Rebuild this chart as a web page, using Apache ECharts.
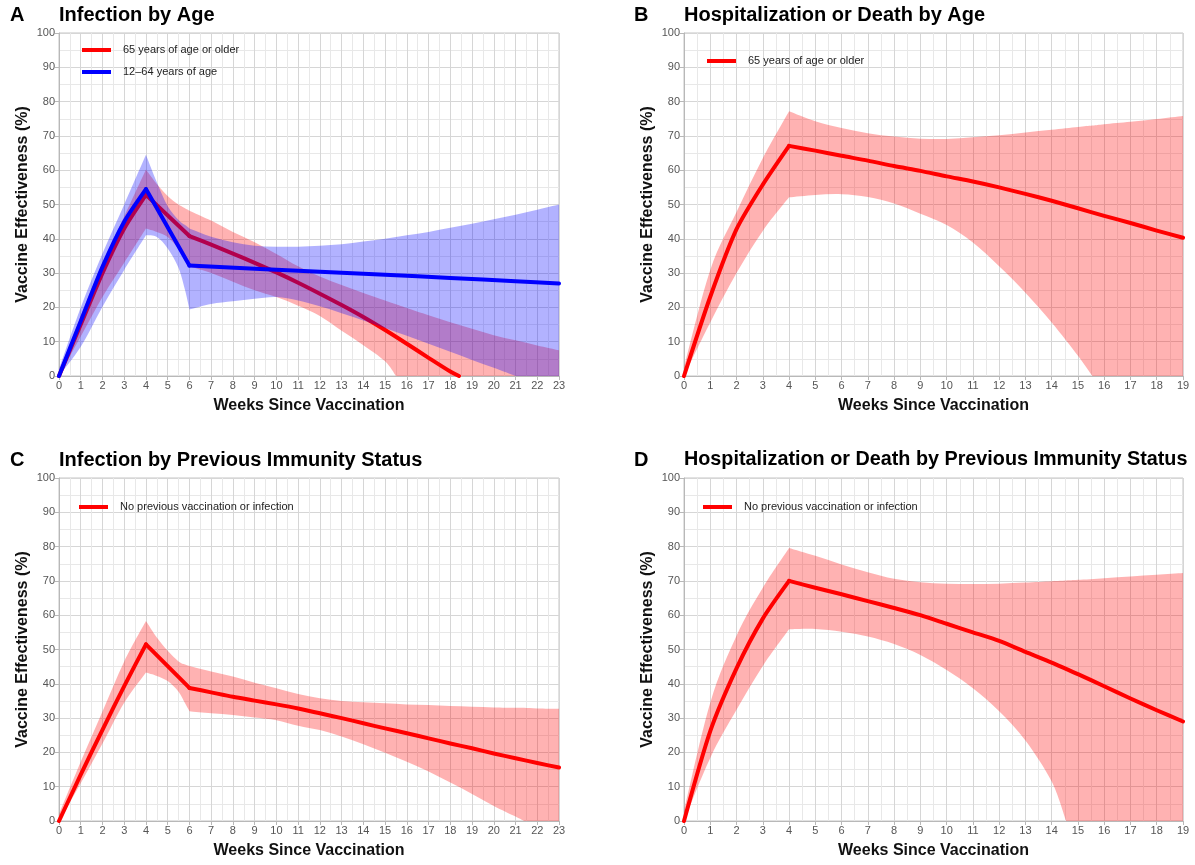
<!DOCTYPE html>
<html>
<head>
<meta charset="utf-8">
<script src="https://cdn.jsdelivr.net/npm/echarts@6/dist/echarts.min.js"></script>
<style>
html,body{margin:0;padding:0;background:#fff;}
#chart{width:1195px;height:865px;}
</style>
</head>
<body>
<div id="chart"></div>
<script>
// ---------------- DATA ----------------
const panelTitles = ['Infection by Age', 'Hospitalization or Death by Age', 'Infection by Previous Immunity Status', 'Hospitalization or Death by Previous Immunity Status'];
const panelLetters = ['A', 'B', 'C', 'D'];
const xAxisName = 'Weeks Since Vaccination';
const yAxisName = 'Vaccine Effectiveness (%)';
const xMax = [23, 19, 23, 19];
const nameOld = '65 years of age or older';
const nameYoung = '12–64 years of age';
const nameNaive = 'No previous vaccination or infection';

// Panel A – 65+ (red)
const aRedLineX = [0, 1, 2, 3, 4, 6, 7, 8, 9, 10, 11, 12, 13, 14, 15, 16, 17, 18, 18.4];
const aRedLineY = [0, 15, 30, 43, 52.8, 40.8, 38.3, 35.7, 33, 30.2, 27.2, 24, 20.7, 17.2, 13.4, 9.4, 5.3, 1.3, 0];
const aRedBandX = [0, 1, 2, 3, 4, 4.5, 5, 5.5, 6, 7, 8, 9, 10, 11, 12, 13, 14, 15, 15.5, 16, 17, 18, 19, 20, 21, 22, 23];
const aRedBandHi = [1, 17.5, 33, 46.5, 60.2, 56, 52.5, 50, 48.2, 45.3, 42, 39, 35.6, 32, 29, 26.5, 24.2, 22, 20.9, 19.8, 17.7, 15.7, 13.8, 11.9, 10.4, 8.9, 7.5];
const aRedBandLo = [0, 11.5, 23, 33, 43, 42, 40.5, 37, 32, 30, 27.5, 25, 23, 20.5, 17.5, 13.2, 9, 4.3, 0, 0, 0, 0, 0, 0, 0, 0, 0];
// Panel A – 12–64 (blue)
const aBlueLineX = [0, 1, 2, 3, 4, 6, 9, 12, 15, 18, 21, 23];
const aBlueLineY = [0, 16, 31.8, 45, 54.5, 32.2, 31.3, 30.4, 29.5, 28.6, 27.6, 27];
const aBlueBandX = [0, 1, 2, 3, 4, 4.5, 5, 5.5, 5.8, 6, 7, 8, 9, 10, 11, 12, 13, 14, 15, 16, 17, 18, 19, 20, 21, 22, 23];
const aBlueBandHi = [2, 20, 35.7, 50, 64.5, 56.5, 49.5, 45.5, 44, 43, 40.6, 39, 38, 37.7, 37.7, 38, 38.4, 39.2, 40, 41, 42, 43.2, 44.4, 45.7, 47, 48.5, 50];
const aBlueBandLo = [0, 8.5, 20.2, 30.9, 41, 40.5, 37.2, 31.5, 25, 19.4, 21, 21.8, 22.5, 23, 22, 20.3, 18.3, 16.2, 14, 11.7, 9.4, 7.1, 4.7, 2.4, 0, 0, 0];

// Panel B – 65+
const bLineX = [0, 1, 2, 3, 4, 5, 6, 7, 8, 9, 10, 11, 12, 13, 14, 15, 16, 17, 18, 19];
const bLineY = [0, 23.1, 42.8, 55.8, 67.1, 65.7, 64.2, 62.8, 61.2, 59.8, 58.2, 56.7, 55, 53.1, 51.1, 48.9, 46.7, 44.6, 42.4, 40.3];
const bBandX = [0, 1, 2, 3, 4, 5, 6, 7, 8, 9, 10, 11, 12, 13, 14, 15, 15.55, 16, 17, 18, 19];
const bBandHi = [2.5, 30.9, 47.8, 63.5, 77.2, 74.3, 72.3, 70.8, 69.8, 69.2, 69.1, 69.6, 70.2, 71, 71.8, 72.6, 73, 73.4, 74.1, 74.9, 75.8];
const bBandLo = [0, 15.6, 30, 42.3, 52.1, 52.8, 53, 52.2, 50.3, 47.3, 44, 38.9, 32, 24.3, 15.6, 5.9, 0, 0, 0, 0, 0];

// Panel C – no previous immunity
const cLineX = [0, 1, 2, 3, 4, 6, 7, 8, 9, 10, 11, 12, 13, 14, 15, 16, 17, 18, 19, 20, 21, 22, 23];
const cLineY = [0, 13.5, 26.6, 39.3, 51.5, 38.8, 37.5, 36.2, 35.1, 34, 32.8, 31.4, 30, 28.5, 27, 25.6, 24.1, 22.6, 21.2, 19.7, 18.3, 16.9, 15.6];
const cBandX = [0, 1, 2, 3, 4, 4.5, 5, 5.5, 5.8, 6, 7, 8, 9, 10, 11, 12, 13, 14, 15, 16, 17, 18, 19, 20, 21, 21.4, 22, 23];
const cBandHi = [2, 17.3, 31.9, 46.5, 58.3, 53.5, 49.6, 46.5, 45.6, 45.2, 43.6, 42.1, 40.3, 38.7, 37, 35.8, 35, 34.6, 34.3, 34, 33.8, 33.5, 33.3, 33.1, 33, 33, 32.8, 32.7];
const cBandLo = [0, 11, 22.6, 34.5, 43.3, 42.3, 40.8, 37.7, 34.3, 32, 31.4, 30.9, 30.2, 29.4, 27.8, 26.5, 24.6, 22.4, 19.9, 17.3, 14.4, 11.2, 7.9, 4.4, 1.3, 0, 0, 0];

// Panel D – no previous immunity
const dLineX = [0, 1, 2, 3, 4, 5, 6, 7, 8, 9, 10, 11, 12, 13, 14, 15, 16, 17, 18, 19];
const dLineY = [0, 26.2, 44.5, 59, 70, 68, 66.1, 64.1, 62.1, 60, 57.5, 55, 52.5, 49.3, 46.2, 42.8, 39.3, 35.7, 32.3, 29];
const dBandX = [0, 1, 2, 3, 4, 5, 6, 7, 8, 9, 10, 11, 12, 13, 14, 14.55, 15, 16, 17, 18, 19];
const dBandHi = [3, 34.5, 54, 68, 79.6, 77.3, 74.8, 72.5, 70.6, 69.6, 69.2, 69.1, 69.2, 69.5, 69.9, 70.1, 70.3, 70.8, 71.3, 71.8, 72.3];
const dBandLo = [0, 18.4, 32.4, 45.2, 55.9, 56, 55.2, 53.8, 51.6, 48.4, 44, 38.7, 32, 23.5, 11.5, 0, 0, 0, 0, 0, 0];

// Kinks (weeks where the model changes slope)
const kinksA = [4, 6], kinksB = [4], kinksC = [4, 6], kinksD = [4];

// ---------------- CHART ----------------
const FONT = '"Liberation Sans", Arial, Helvetica, sans-serif';
const RED = '#ff0000', BLUE = '#0000ff';
const RED_FILL = 'rgba(255,0,0,0.30)', BLUE_FILL = 'rgba(0,0,255,0.30)';

const grids = [
  {left: 59, top: 33, width: 500, height: 343},
  {left: 684, top: 33, width: 499, height: 343},
  {left: 59, top: 478, width: 500, height: 343},
  {left: 684, top: 478, width: 499, height: 343}
];

// Catmull-Rom through screen points, restarting at break indices
function curvePath(pts, breakIdx, startCmd) {
  let d = startCmd + pts[0][0].toFixed(2) + ' ' + pts[0][1].toFixed(2);
  let segStart = 0;
  const isBreak = i => breakIdx.indexOf(i) >= 0;
  for (let i = 0; i < pts.length - 1; i++) {
    if (isBreak(i)) segStart = i;
    let segEnd = pts.length - 1;
    for (let j = i + 1; j < pts.length; j++) { if (isBreak(j)) { segEnd = j; break; } }
    const p1 = pts[i], p2 = pts[i + 1];
    const p0 = i > segStart ? pts[i - 1] : p1;
    const p3 = i + 1 < segEnd ? pts[i + 2] : p2;
    const c1 = [p1[0] + (p2[0] - p0[0]) / 6, p1[1] + (p2[1] - p0[1]) / 6];
    const c2 = [p2[0] - (p3[0] - p1[0]) / 6, p2[1] - (p3[1] - p1[1]) / 6];
    d += ' C' + c1[0].toFixed(2) + ' ' + c1[1].toFixed(2) + ' ' + c2[0].toFixed(2) + ' ' + c2[1].toFixed(2) + ' ' + p2[0].toFixed(2) + ' ' + p2[1].toFixed(2);
  }
  return d;
}

function band(gi, xs, lo, hi, kinks, fill, z) {
  return {
    type: 'custom', xAxisIndex: gi, yAxisIndex: gi, z: z, silent: true, clip: true,
    data: xs.map((x, i) => [x, lo[i], hi[i]]),
    encode: {x: 0, y: [1, 2]},
    renderItem: function (params, api) {
      if (params.dataIndex !== 0) return null;
      const n = xs.length;
      const up = xs.map((x, i) => api.coord([x, hi[i]]));
      const dn = xs.map((x, i) => api.coord([x, lo[i]])).reverse();
      const brUp = [], brDn = [];
      xs.forEach((x, i) => {
        if (kinks.indexOf(x) >= 0) { brUp.push(i); brDn.push(n - 1 - i); }
        if (lo[i] === 0 && i > 0 && lo[i - 1] > 0) brDn.push(n - 1 - i);
        if (lo[i] === 0 && i < n - 1 && lo[i + 1] > 0) brDn.push(n - 1 - i);
      });
      const d = curvePath(up, brUp, 'M') + ' L' + dn[0][0].toFixed(2) + ' ' + dn[0][1].toFixed(2) + curvePath(dn, brDn, ' L').replace(/^ L[^C]*/, '') + ' Z';
      return {type: 'path', shape: {pathData: d}, style: {fill: fill, stroke: null}};
    }
  };
}

function lineSegs(gi, name, color, xs, ys, breaks, z) {
  const cuts = [0];
  xs.forEach((x, i) => { if (breaks.indexOf(x) >= 0) cuts.push(i); });
  cuts.push(xs.length - 1);
  const out = [];
  for (let k = 0; k < cuts.length - 1; k++) {
    const seg = [];
    for (let i = cuts[k]; i <= cuts[k + 1]; i++) seg.push([xs[i], ys[i]]);
    out.push({
      type: 'line', name: name, xAxisIndex: gi, yAxisIndex: gi, z: z,
      data: seg, showSymbol: false, symbol: 'none', color: color,
      smooth: seg.length > 2 ? 0.25 : false,
      lineStyle: {width: 4, color: color, cap: 'round', join: 'round'},
      silent: true, clip: true
    });
  }
  return out;
}

const xAxes = grids.map((g, i) => ({
  gridIndex: i, type: 'value', min: 0, max: xMax[i], interval: 1,
  name: xAxisName, nameLocation: 'middle', nameGap: 22,
  nameTextStyle: {fontFamily: FONT, fontSize: 16, fontWeight: 'bold', color: '#111'},
  axisLine: {show: true, onZero: false, lineStyle: {color: '#b8b8b8', width: 1}},
  axisTick: {show: true, length: 4, lineStyle: {color: '#b8b8b8'}},
  axisLabel: {fontFamily: FONT, fontSize: 11, color: '#555', margin: 4, showMaxLabel: true, showMinLabel: true},
  splitLine: {show: true, lineStyle: {color: '#d6d6d6', width: 1}},
  minorTick: {show: false, splitNumber: 2},
  minorSplitLine: {show: true, lineStyle: {color: '#e8e8e8', width: 1}}
}));
const yAxes = grids.map((g, i) => ({
  gridIndex: i, type: 'value', min: 0, max: 100, interval: 10,
  name: yAxisName, nameLocation: 'middle', nameGap: 28,
  nameTextStyle: {fontFamily: FONT, fontSize: 16, fontWeight: 'bold', color: '#111'},
  axisLine: {show: true, lineStyle: {color: '#b8b8b8', width: 1}},
  axisTick: {show: true, length: 4, lineStyle: {color: '#b8b8b8'}},
  axisLabel: {fontFamily: FONT, fontSize: 11, color: '#555', margin: 4},
  splitLine: {show: true, lineStyle: {color: '#d6d6d6', width: 1}},
  minorTick: {show: false, splitNumber: 2},
  minorSplitLine: {show: true, lineStyle: {color: '#e8e8e8', width: 1}}
}));

const titlePos = [[10, 59, 5], [634, 684, 5], [10, 59, 450], [634, 684, 450]];
const titles = [];
titlePos.forEach((p, i) => {
  const ts = {fontFamily: FONT, fontSize: 20, fontWeight: 'bold', color: '#000'};
  titles.push({text: panelLetters[i], left: p[0], top: p[2], padding: 0, textStyle: ts});
  titles.push({text: panelTitles[i], left: p[1], top: p[2], padding: 0, textStyle: Object.assign({}, ts, i === 3 ? {fontSize: 19.8} : {})});
});

function legendAt(left, top, names) {
  return {
    left: left, top: top, orient: 'vertical', data: names, icon: 'rect',
    itemWidth: 29, itemHeight: 4, itemGap: 8, padding: 0, selectedMode: false,
    textStyle: {fontFamily: FONT, fontSize: 11, color: '#222', padding: [0, 0, 0, 7], lineHeight: 14}
  };
}

const series = [].concat(
  [band(0, aRedBandX, aRedBandLo, aRedBandHi, kinksA, RED_FILL, 2)],
  lineSegs(0, nameOld, RED, aRedLineX, aRedLineY, kinksA, 3),
  [band(0, aBlueBandX, aBlueBandLo, aBlueBandHi, kinksA, BLUE_FILL, 4)],
  lineSegs(0, nameYoung, BLUE, aBlueLineX, aBlueLineY, kinksA, 5),
  [band(1, bBandX, bBandLo, bBandHi, kinksB, RED_FILL, 2)],
  lineSegs(1, nameOld, RED, bLineX, bLineY, kinksB, 3),
  [band(2, cBandX, cBandLo, cBandHi, kinksC, RED_FILL, 2)],
  lineSegs(2, nameNaive, RED, cLineX, cLineY, kinksC, 3),
  [band(3, dBandX, dBandLo, dBandHi, kinksD, RED_FILL, 2)],
  lineSegs(3, nameNaive, RED, dLineX, dLineY, kinksD, 3)
);

const chart = echarts.init(document.getElementById('chart'), null, {renderer: 'canvas'});
chart.setOption({
  animation: false,
  backgroundColor: '#ffffff',
  title: titles,
  grid: grids.map(g => Object.assign({show: true, borderColor: '#c4c4c4', borderWidth: 1, backgroundColor: 'transparent', containLabel: false}, g)),
  xAxis: xAxes,
  yAxis: yAxes,
  legend: [
    legendAt(82, 43, [nameOld, nameYoung]),
    legendAt(707, 54, [nameOld]),
    legendAt(79, 500, [nameNaive]),
    legendAt(703, 500, [nameNaive])
  ],
  series: series
});
</script>
</body>
</html>
